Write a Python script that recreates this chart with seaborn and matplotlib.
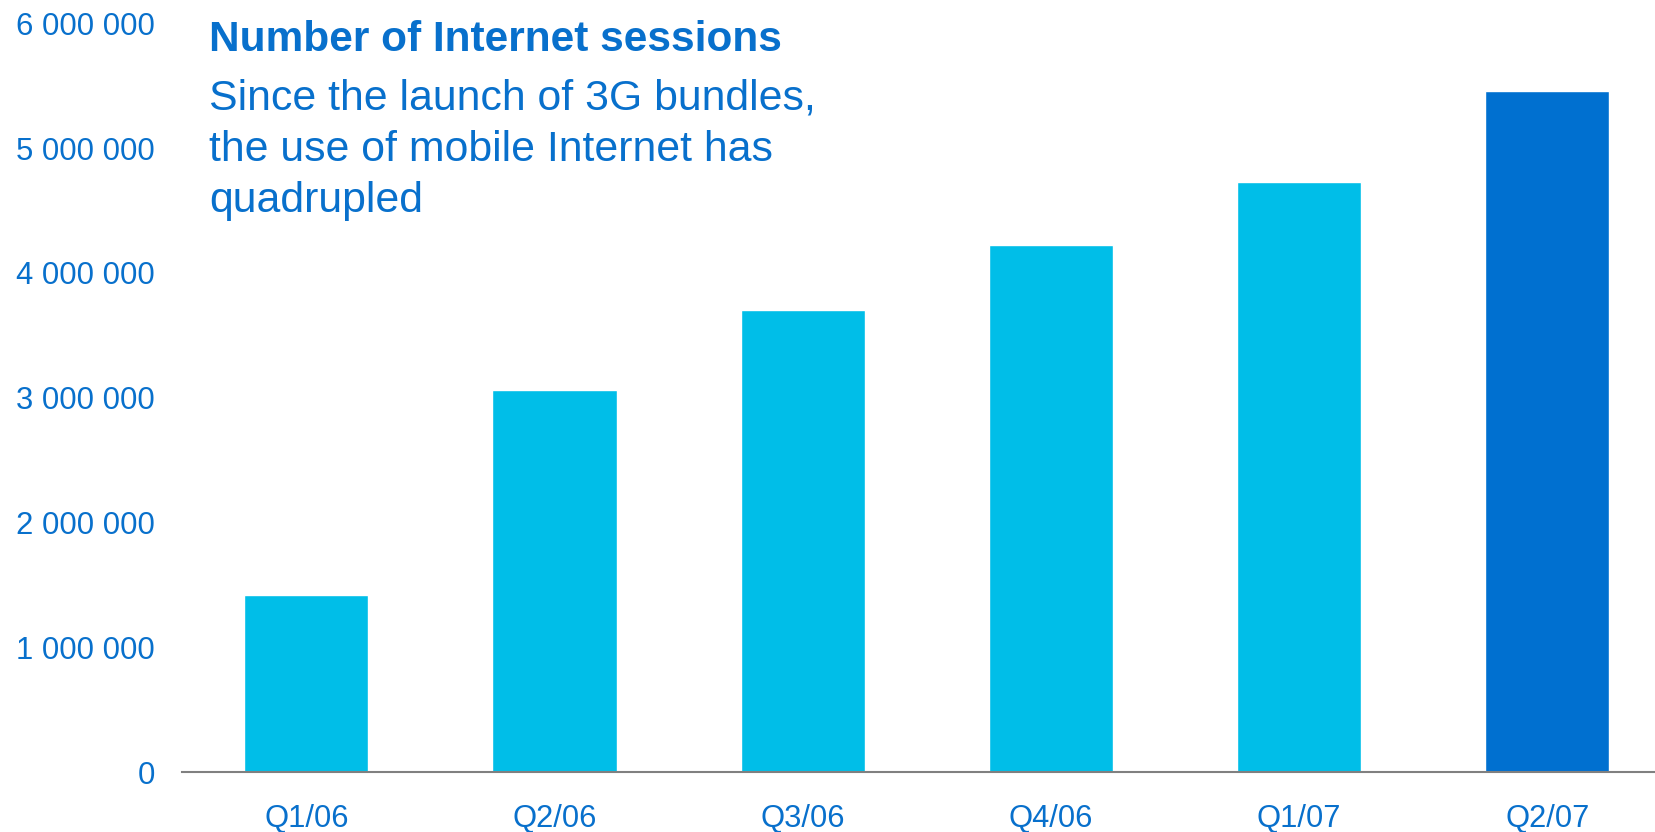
import matplotlib
matplotlib.use("Agg")
import matplotlib.pyplot as plt
import seaborn as sns
import pandas as pd
from matplotlib.ticker import FuncFormatter

quarters = ["Q1/06", "Q2/06", "Q3/06", "Q4/06", "Q1/07", "Q2/07"]
sessions = [1420000, 3060000, 3700000, 4220000, 4730000, 5460000]
highlight = ["base", "base", "base", "base", "base", "latest"]
yticks = [0, 1000000, 2000000, 3000000, 4000000, 5000000, 6000000]
title = "Number of Internet sessions"
subtitle = "Since the launch of 3G bundles,\nthe use of mobile Internet has\nquadrupled"

LIGHT = "#00BEE8"
DARK = "#0070D0"
TEXT = "#0870CC"

sns.set_theme(style="white")
plt.rcParams["font.family"] = ["Liberation Sans", "DejaVu Sans"]

df = pd.DataFrame({"quarter": quarters, "sessions": sessions, "grp": highlight})

fig = plt.figure(figsize=(16.56, 8.32), dpi=100)
ax = fig.add_axes([0.110, 0.0721, 0.890, 0.9])
sns.barplot(data=df, x="quarter", y="sessions", hue="grp",
            palette={"base": LIGHT, "latest": DARK}, dodge=False,
            width=0.5, legend=False, ax=ax, saturation=1)

ax.set_ylim(0, 6000000)
ax.set_xlim(-0.5, 5.438)
ax.set_yticks(yticks)
ax.yaxis.set_major_formatter(FuncFormatter(lambda v, p: f"{int(v):,}".replace(",", " ")))
ax.set_xlabel("")
ax.set_ylabel("")
for s in ["top", "right", "left"]:
    ax.spines[s].set_visible(False)
ax.spines["bottom"].set_color("#808080")
ax.spines["bottom"].set_linewidth(1.5)
ax.tick_params(axis="y", length=0, pad=19.5, labelsize=22.4, labelcolor=TEXT)
ax.tick_params(axis="x", length=0, pad=23, labelsize=22.2, labelcolor=TEXT)
ax.grid(False)

fig.text(209 / 1656, 1 - 51 / 832, title, fontsize=30.5, fontweight="bold",
         color=TEXT, ha="left", va="baseline")
fig.text(209 / 1656, 1 - 212 / 832, subtitle, fontsize=30.8, color=TEXT,
         ha="left", va="baseline", linespacing=1.37)

fig.savefig("out.png", dpi=100)
